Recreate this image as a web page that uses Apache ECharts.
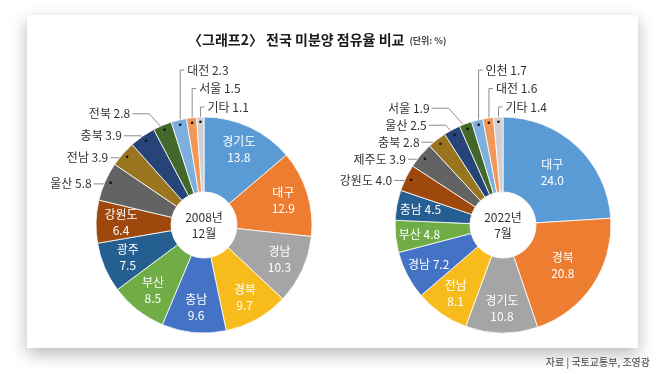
<!DOCTYPE html>
<html><head><meta charset="utf-8">
<script src="https://cdn.jsdelivr.net/npm/echarts@6/dist/echarts.min.js"></script>
<style>html,body{margin:0;padding:0;background:#fff;}#c{width:660px;height:374px;}</style>
</head><body><div id="c"></div>
<script>
const leftNames = ['경기도','대구','경남','경북','충남','부산','광주','강원도','울산','전남','충북','전북','대전','서울','기타'];
const leftValues = [13.8,12.9,10.3,9.7,9.6,8.5,7.5,6.4,5.8,3.9,3.9,2.8,2.3,1.5,1.1];
const rightNames = ['대구','경북','경기도','전남','경남','부산','충남','강원도','제주도','충북','울산','서울','인천','대전','기타'];
const rightValues = [24.0,20.8,10.8,8.1,7.2,4.8,4.5,4.0,3.9,2.8,2.5,1.9,1.7,1.6,1.4];
const leftCenterText = '2008년\n12월';
const rightCenterText = '2022년\n7월';
const rightOneLine = ['경남','부산','충남'];
const titleText = '〈그래프2〉 전국 미분양 점유율 비교';
const unitText = '(단위: %)';
const sourceText = '자료 | 국토교통부, 조영광';
const sliceColors = ['#5B9BD5','#ED7D31','#A5A5A5','#F7BC1C','#4472C4','#70AD47','#255E91','#9E480E','#636363','#9A7520','#264478','#43682B','#7CAFDD','#F1975A','#D0D0D0'];

const FONT = '"Noto Sans CJK KR", "Noto Sans", sans-serif';
const R0 = 33, R1 = 108;

function makeDonut(names, values, cx, cy, oneLine, sideGap) {
  const total = values.reduce((a, b) => a + b, 0);
  let cum = 0;
  const mids = values.map(v => { const m = (cum + v / 2) / total; cum += v; return m; });
  const pt = (i, r) => { const t = mids[i] * 2 * Math.PI; return [cx + r * Math.sin(t), cy - r * Math.cos(t)]; };
  const kind = mids.map(m => m < 0.79 ? 'in' : (m < 0.95 ? 'side' : 'top'));
  const fmtV = v => v.toFixed(1);
  const layout = [];
  let prevY = Infinity;
  const topIdx = [];
  kind.forEach((k, i) => { if (k === 'top') topIdx.push(i); });
  values.forEach((v, i) => {
    const dot = pt(i, 102);
    if (kind[i] === 'in') {
      const one = oneLine.indexOf(names[i]) >= 0;
      const r = one ? 84 : (v > 20 ? 72 : 83);
      const p = pt(i, r);
      layout.push({ x: p[0], y: p[1], align: 'center', verticalAlign: 'middle' });
    } else if (kind[i] === 'side') {
      const y = Math.min(dot[1], prevY - sideGap);
      prevY = y;
      const ex = dot[0] - (dot[1] - y) * 0.9;
      const tx = ex - 19;
      layout.push({ x: tx, y: y, align: 'right', verticalAlign: 'middle',
        labelLinePoints: [dot, [ex, y], [tx + 2, y]] });
    } else {
      const k = topIdx.indexOf(i);
      const y = cy - R1 - 10 - 18.5 * (topIdx.length - 1 - k);
      layout.push({ x: dot[0] + 7, y: y, align: 'left', verticalAlign: 'middle',
        labelLinePoints: [dot, [dot[0], y], [dot[0] + 4, y]] });
    }
  });
  const data = values.map((v, i) => ({
    name: names[i], value: v,
    itemStyle: { color: sliceColors[i] },
    label: kind[i] === 'in' ? { position: 'inside', color: '#fff' } : { position: 'outside', color: '#333' },
    labelLine: { show: kind[i] !== 'in' }
  }));
  const main = {
    type: 'pie', center: [cx, cy], radius: [R0, R1], startAngle: 90, clockwise: true,
    avoidLabelOverlap: false, animation: false, silent: true,
    itemStyle: { borderColor: '#fff', borderWidth: 0.8 },
    label: {
      show: true, fontFamily: FONT, fontSize: 12, lineHeight: 16,
      formatter: p => {
        const i = p.dataIndex;
        if (kind[i] === 'in' && oneLine.indexOf(names[i]) < 0) return names[i] + '\n' + fmtV(values[i]);
        return names[i] + ' ' + fmtV(values[i]);
      }
    },
    labelLine: { show: true, length: 5, length2: 5, lineStyle: { color: '#8c8c8c', width: 1 } },
    labelLayout: p => layout[p.dataIndex],
    emphasis: { disabled: true },
    data: data
  };
  const dotData = values.map((v, i) => ({
    name: names[i], value: v,
    label: { show: kind[i] !== 'in' }
  }));
  const dots = {
    type: 'pie', center: [cx, cy], radius: [R0, R1], startAngle: 90, clockwise: true,
    animation: false, silent: true, z: 5,
    itemStyle: { color: 'rgba(0,0,0,0)' },
    label: { position: 'inside', formatter: '•', color: '#111', fontSize: 9, fontFamily: 'DejaVu Sans' },
    labelLine: { show: false },
    labelLayout: p => { const d = pt(p.dataIndex, 102); return { x: d[0], y: d[1], align: 'center', verticalAlign: 'middle' }; },
    emphasis: { disabled: true },
    data: dotData
  };
  return [main, dots];
}

const chart = echarts.init(document.getElementById('c'), null, { renderer: 'canvas' });
const L = { cx: 204, cy: 225 }, Rt = { cx: 503, cy: 225 };
chart.setOption({
  animation: false,
  backgroundColor: '#ffffff',
  title: {
    text: '{m|' + titleText + '} {u|' + unitText + '}',
    left: 183, top: 26,
    textStyle: {
      rich: {
        m: { fontFamily: FONT, fontSize: 14, fontWeight: 'bold', color: '#1a1a1a' },
        u: { fontFamily: FONT, fontSize: 9, color: '#444', padding: [2, 0, 0, 0] }
      }
    }
  },
  graphic: [
    { type: 'rect', z: -10, shape: { x: 27, y: 15, width: 611, height: 333 },
      style: { fill: '#fff', shadowBlur: 16, shadowColor: 'rgba(0,0,0,0.28)', shadowOffsetY: 6 } },
    { type: 'text', x: L.cx, y: L.cy, z: 10,
      style: { text: leftCenterText, align: 'center', verticalAlign: 'middle', fontFamily: FONT, fontSize: 12, lineHeight: 16, fill: '#333' } },
    { type: 'text', x: Rt.cx, y: Rt.cy, z: 10,
      style: { text: rightCenterText, align: 'center', verticalAlign: 'middle', fontFamily: FONT, fontSize: 12, lineHeight: 16, fill: '#333' } },
    { type: 'text', x: 650, y: 362, z: 10,
      style: { text: sourceText, align: 'right', verticalAlign: 'middle', fontFamily: FONT, fontSize: 10, fill: '#444' } }
  ],
  series: [].concat(
    makeDonut(leftNames, leftValues, L.cx, L.cy, [], 22),
    makeDonut(rightNames, rightValues, Rt.cx, Rt.cy, rightOneLine, 17)
  )
});
</script></body></html>
